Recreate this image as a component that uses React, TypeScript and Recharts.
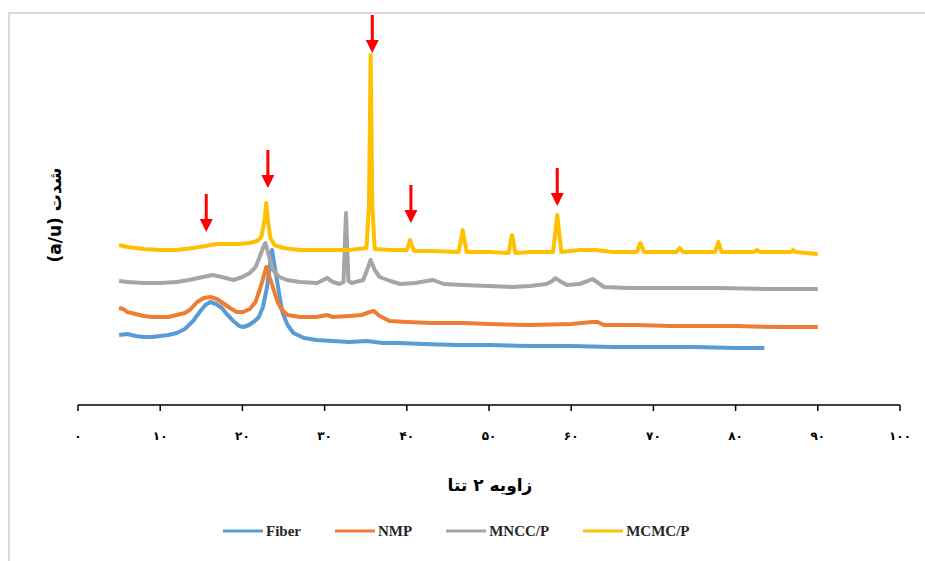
import React from 'react';
import { LineChart, Line, XAxis, YAxis, Legend, ReferenceDot, Customized } from 'recharts';

const seriesNames = ['Fiber', 'NMP', 'MNCC/P', 'MCMC/P'];
const seriesColors = ['#5b9bd5', '#ed7d31', '#a5a5a5', '#ffc000'];

// [2θ (deg), intensity (a.u.)]
const fiber: [number, number][] = [
  [5, 70], [6, 71], [7, 69], [8, 68], [9, 68], [10, 69], [11, 70], [12, 72], [13, 76], [14, 84],
  [14.8, 93], [15.5, 100], [16.1, 103], [16.8, 101], [17.5, 97], [18.2, 90], [18.9, 84], [19.6, 79],
  [20.1, 78], [20.8, 80], [21.5, 84], [22, 88], [22.5, 98], [23, 118], [23.3, 138], [23.6, 155],
  [23.9, 140], [24.2, 125], [24.6, 105], [24.9, 92], [25.5, 80], [26.2, 72], [27.5, 67], [29, 65],
  [31, 64], [33, 63], [35.2, 64], [37, 62], [39, 62], [42, 61], [46, 60], [50, 60], [55, 59],
  [60, 59], [65, 58], [70, 58], [75, 58], [80, 57], [83.5, 57],
];
const nmp: [number, number][] = [
  [5, 97], [5.5, 96], [6, 93], [7, 91], [8, 89], [9, 88], [10, 88], [11, 88], [12, 90], [13, 92],
  [13.6, 95], [14.5, 103], [15.3, 107], [16.1, 108], [16.9, 106], [17.6, 102], [18.5, 97], [19.3, 93],
  [20.1, 93], [20.9, 96], [21.6, 103], [22.1, 115], [22.5, 126], [22.9, 138], [23.3, 128], [23.7, 118],
  [24.2, 105], [24.8, 95], [25.5, 90], [27, 88], [29, 88], [30.3, 90], [31, 88], [33, 89], [34.5, 90],
  [35.5, 93], [36, 94], [36.7, 89], [37.9, 84], [40, 83], [43, 82], [47, 82], [50, 81], [55, 80],
  [60, 81], [62.5, 83], [63.2, 83], [64, 80], [68, 80], [72, 79], [76, 79], [80, 79], [85, 78], [90, 78],
];
const mncc: [number, number][] = [
  [5, 124], [6, 123], [8, 122], [10, 122], [12, 123], [13.5, 125], [15.2, 128], [16.4, 130], [17.5, 128],
  [18.9, 125], [20, 128], [20.9, 132], [21.6, 138], [22.1, 148], [22.5, 157], [22.8, 162], [23.2, 150],
  [23.7, 135], [24.5, 128], [25.4, 125], [27, 123], [29.1, 122], [30.3, 127], [31, 123], [31.8, 121],
  [32.3, 123], [32.6, 192], [32.9, 124], [33.3, 122], [34.7, 125], [35.3, 138], [35.6, 145], [36.1, 135],
  [36.7, 128], [38, 124], [39.2, 121], [41, 122], [43.2, 125], [44.5, 121], [46.8, 120], [50, 119],
  [52.9, 118], [55, 119], [57, 121], [57.7, 124], [58.1, 127], [58.6, 124], [59.5, 120], [61, 121],
  [62, 124], [62.6, 126], [63.3, 122], [64, 118], [67, 117], [72, 117], [78, 117], [84, 116], [90, 116],
];
const mcmc: [number, number][] = [
  [5, 160], [6, 158], [8, 156], [10, 155], [12, 155], [14, 157], [15.5, 159], [16.9, 161], [18, 161],
  [19.5, 161], [20.9, 162], [21.8, 164], [22.3, 168], [22.7, 185], [22.9, 202], [23.1, 185], [23.4, 167],
  [23.9, 160], [25, 157], [27, 155], [30, 155], [33, 155], [35.1, 157], [35.4, 200], [35.6, 350],
  [35.8, 200], [36.1, 156], [38, 155], [40, 155], [40.2, 160], [40.4, 165], [40.6, 160], [40.9, 154],
  [43, 154], [46.3, 153], [46.6, 165], [46.8, 175], [47.0, 165], [47.3, 153], [50, 153], [52.4, 152],
  [52.6, 162], [52.8, 170], [53.0, 162], [53.2, 152], [55, 153], [57.8, 153], [58.1, 175], [58.3, 190],
  [58.5, 175], [58.8, 153], [61, 155], [63, 155], [65, 153], [68, 153], [68.2, 158], [68.4, 162],
  [68.6, 158], [68.9, 153], [72.8, 153], [73.2, 157], [73.6, 153], [77.5, 153], [77.9, 163], [78.3, 153],
  [82.2, 153], [82.6, 155], [83, 153], [86.7, 153], [87.0, 155], [87.3, 153], [90, 151],
];

const xTicks = [0, 10, 20, 30, 40, 50, 60, 70, 80, 90, 100];
const arrowX = [15.6, 23.1, 35.8, 40.5, 58.3];
const arrowTip = [173, 217, 352, 182, 199];

const xTitle = 'زاویه ۲ تتا';
const yTitle = 'شدت (a/u)';

const seriesData = [fiber, nmp, mncc, mcmc].map((s) => s.map(([x, y]) => ({ x, y })));

const toPersian = (n: number) => String(n).replace(/\d/g, (d) => '۰۱۲۳۴۵۶۷۸۹'[Number(d)]);

const Arrow = (props: any) => {
  const { cx, cy } = props;
  if (cx == null || cy == null) return null;
  return (
    <g>
      <rect x={cx - 1.5} y={cy - 38} width={3} height={26} fill="#ff0000" />
      <path d={`M${cx - 6.5},${cy - 13}L${cx + 6.5},${cy - 13}L${cx},${cy}Z`} fill="#ff0000" />
    </g>
  );
};

const renderLegend = (props: any) => {
  const payload = [...(props.payload || [])].sort(
    (a: any, b: any) => seriesNames.indexOf(a.value) - seriesNames.indexOf(b.value)
  );
  return (
    <div style={{ display: 'flex', alignItems: 'center', height: 24, paddingLeft: 213 }}>
      {payload.map((p: any) => (
        <div key={p.value} style={{ display: 'flex', alignItems: 'center', marginRight: 34 }}>
          <svg width={40} height={4}>
            <line x1={0} y1={2} x2={40} y2={2} stroke={p.color} strokeWidth={3} />
          </svg>
          <span
            style={{
              marginLeft: 3,
              fontFamily: 'Liberation Serif',
              fontWeight: 'bold',
              fontSize: 15,
              color: '#262626',
            }}
          >
            {p.value}
          </span>
        </div>
      ))}
    </div>
  );
};

const YTitle = () => (
  <text
    x={45}
    y={201}
    transform="rotate(-90 45 201)"
    textAnchor="middle"
    dominantBaseline="central"
    style={{ direction: 'rtl' }}
    fontFamily="DejaVu Sans"
    fontWeight="bold"
    fontSize={17}
    fill="#000"
  >
    {yTitle}
  </text>
);

const XTitle = () => (
  <text
    x={480}
    y={471}
    textAnchor="middle"
    dominantBaseline="central"
    fontFamily="DejaVu Sans"
    fontWeight="bold"
    fontSize={17}
    fill="#000"
  >
    {xTitle}
  </text>
);

export default function App() {
  return (
    <div
      style={{
        position: 'fixed',
        left: 8,
        top: 12,
        width: 917,
        height: 549,
        borderLeft: '2px solid #d9d9d9',
        borderTop: '2px solid #d9d9d9',
        boxSizing: 'border-box',
        overflow: 'hidden',
        background: '#fff',
      }}
    >
      <LineChart width={915} height={547} margin={{ top: 7, right: 25, bottom: 0, left: 68 }}>
        <XAxis
          type="number"
          dataKey="x"
          domain={[0, 100]}
          ticks={xTicks}
          allowDataOverflow
          tickFormatter={toPersian}
          stroke="#000"
          axisLine={{ stroke: '#000', strokeWidth: 1.5 }}
          tickLine={{ stroke: '#000', strokeWidth: 1.5 }}
          tickSize={6}
          tickMargin={20}
          height={132}
          tick={{ fontFamily: 'DejaVu Sans', fontWeight: 'bold', fontSize: 12, fill: '#000' }}
          interval={0}
        />
        <YAxis type="number" dataKey="y" domain={[0, 384]} hide />
        {seriesData.map((d, i) => (
          <Line
            key={seriesNames[i]}
            data={d}
            dataKey="y"
            name={seriesNames[i]}
            type="linear"
            stroke={seriesColors[i]}
            strokeWidth={4}
            strokeLinejoin="round"
            dot={false}
            activeDot={false}
            isAnimationActive={false}
          />
        ))}
        {arrowX.map((ax, i) => (
          <ReferenceDot key={i} x={ax} y={arrowTip[i]} r={0} shape={Arrow} ifOverflow="visible" />
        ))}
        <Legend
          verticalAlign="bottom"
          itemSorter={null as any}
          content={renderLegend}
          wrapperStyle={{ left: 0, width: 915, bottom: 18 }}
        />
        <Customized component={YTitle} />
        <Customized component={XTitle} />
      </LineChart>
    </div>
  );
}
